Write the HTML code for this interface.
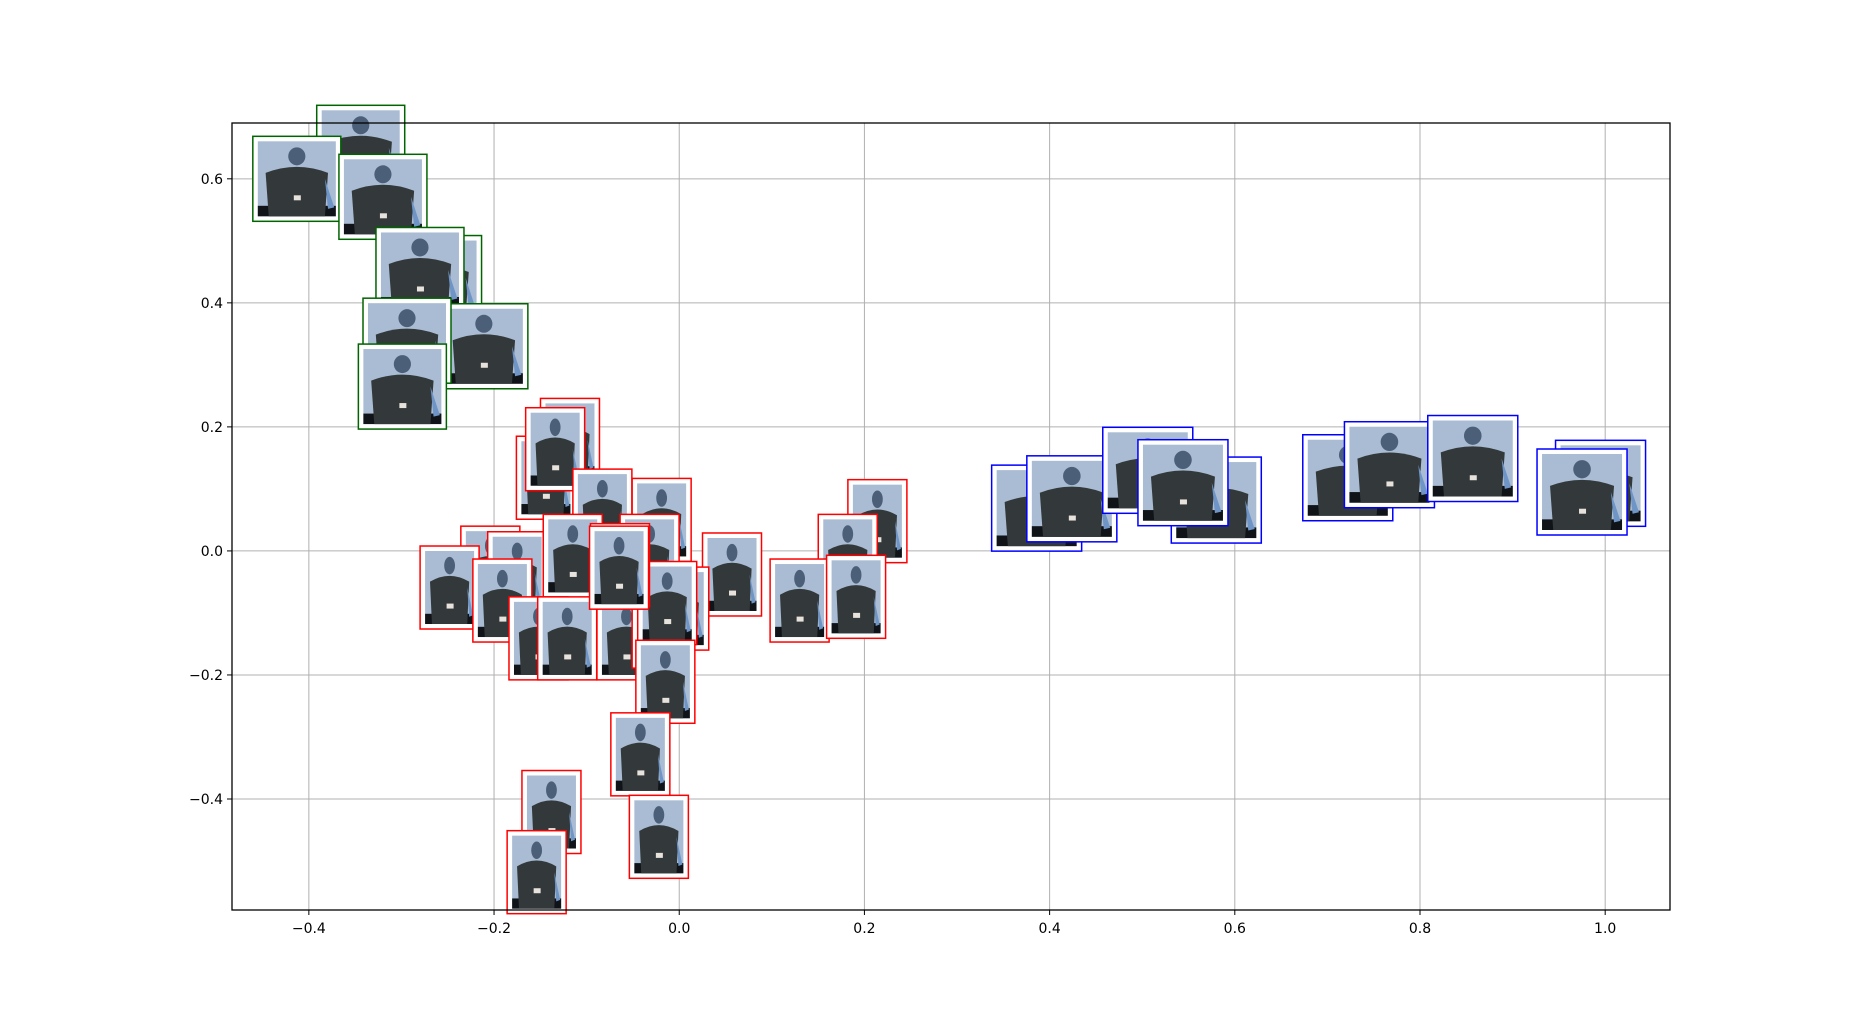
<!DOCTYPE html>
<html><head><meta charset="utf-8"><style>
html,body{margin:0;padding:0;background:#fff;}
svg{display:block;font-family:"DejaVu Sans","Liberation Sans",sans-serif;}
</style></head><body>
<svg id="chart" width="1855" height="1022" viewBox="0 0 1855 1022" xmlns="http://www.w3.org/2000/svg">
<rect width="1855" height="1022" fill="#fff"/>
<g id="grid"></g>
<g id="marks"></g>
<g id="axes"></g>
</svg>
<script>
const xTicks = [-0.4, -0.2, 0.0, 0.2, 0.4, 0.6, 0.8, 1.0];
const yTicks = [-0.4, -0.2, 0.0, 0.2, 0.4, 0.6];
const greenX = [-0.344, -0.413, -0.320, -0.261, -0.280, -0.211, -0.294, -0.299];
const greenY = [0.650, 0.600, 0.571, 0.440, 0.453, 0.330, 0.339, 0.265];
const redX = [-0.118,-0.144,-0.134,-0.083,-0.019,0.214,0.182,0.057,-0.204,-0.175,-0.248,-0.191,-0.115,-0.032,-0.152,-0.121,-0.057,-0.019,0.000,-0.013,-0.064,-0.065,0.130,0.191,-0.015,-0.042,-0.138,-0.022,-0.154];
const redY = [0.179,0.118,0.164,0.065,0.050,0.048,-0.008,-0.038,-0.027,-0.036,-0.059,-0.080,-0.008,-0.008,-0.141,-0.141,-0.141,-0.122,-0.093,-0.084,-0.023,-0.027,-0.080,-0.074,-0.211,-0.328,-0.421,-0.461,-0.518];
const blueX = [0.386,0.424,0.506,0.580,0.544,0.722,0.767,0.857,0.995,0.975];
const blueY = [0.069,0.084,0.130,0.082,0.110,0.118,0.139,0.149,0.109,0.095];

const L=232,R=1670,T=123,B=910;
const xMin=-0.483,xMax=1.070,yMin=-0.579,yMax=0.690;
const sx=v=>L+(v-xMin)/(xMax-xMin)*(R-L);
const sy=v=>B-(v-yMin)/(yMax-yMin)*(B-T);
const NS="http://www.w3.org/2000/svg";
function mk(tag,attrs,parent){const e=document.createElementNS(NS,tag);for(const k in attrs)e.setAttribute(k,attrs[k]);parent.appendChild(e);return e;}
const grid=document.getElementById('grid'),marks=document.getElementById('marks'),axes=document.getElementById('axes');
const fmt=v=>(v<0?'\u2212':'')+Math.abs(v).toFixed(1);
xTicks.forEach(v=>{
  const g=mk('line',{x1:sx(v),x2:sx(v),y1:T,y2:B,stroke:'#b0b0b0','stroke-width':1},grid);
  
  
  mk('line',{x1:sx(v),x2:sx(v),y1:B,y2:B+5,stroke:'#000'},axes);
  const t=mk('text',{x:sx(v),y:B+23,'text-anchor':'middle','font-size':14,fill:'#000'},axes);
  t.textContent=fmt(v);
  
  
});
yTicks.forEach(v=>{
  const g=mk('line',{x1:L,x2:R,y1:sy(v),y2:sy(v),stroke:'#b0b0b0','stroke-width':1},grid);
  
  
  mk('line',{x1:L-5,x2:L,y1:sy(v),y2:sy(v),stroke:'#000'},axes);
  const t=mk('text',{x:L-9,y:sy(v)+5,'text-anchor':'end','font-size':14,fill:'#000'},axes);
  t.textContent=fmt(v);
  
  
});
const frame=mk('rect',{x:L,y:T,width:R-L,height:B-T,fill:'none',stroke:'#000','stroke-width':1.3},axes);



function thumb(x,y,w,h,color,name){
  const cx=sx(x),cy=sy(y);
  const g=mk('g',{},marks);
  
  
  const x0=cx-w/2,y0=cy-h/2;
  mk('rect',{x:x0,y:y0,width:w,height:h,fill:'#fff',stroke:color,'stroke-width':1.5},g);
  const ix=x0+5,iy=y0+5,iw=w-10,ih=h-10;
  mk('rect',{x:ix,y:iy,width:iw,height:ih,fill:'#a9bcd3'},g);
  mk('rect',{x:ix,y:iy+ih*0.86,width:iw,height:ih*0.14,fill:'#101418'},g);
  const bx=ix+iw/2;
  mk('path',{d:`M${bx-iw*0.36} ${iy+ih} L${bx-iw*0.4} ${iy+ih*0.42} Q${bx} ${iy+ih*0.26} ${bx+iw*0.4} ${iy+ih*0.42} L${bx+iw*0.36} ${iy+ih} Z`,fill:'#33393a'},g);
  mk('path',{d:`M${bx+iw*0.36} ${iy+ih*0.5} L${bx+iw*0.48} ${iy+ih*0.88} L${bx+iw*0.40} ${iy+ih*0.9} Z`,fill:'#6f95c6'},g);
  mk('ellipse',{cx:bx,cy:iy+ih*0.2,rx:iw*0.11,ry:ih*0.12,fill:'#4c5f78'},g);
  mk('rect',{x:bx-3,y:iy+ih*0.72,width:7,height:5,fill:'#e8e2dc'},g);
}
greenX.forEach((v,i)=>thumb(v,greenY[i],88,85,'#006400','green-thumbnail'));
redX.forEach((v,i)=>thumb(v,redY[i],59,83,'#ff0000','red-thumbnail'));
blueX.forEach((v,i)=>thumb(v,blueY[i],90,86,'#0000ff','blue-thumbnail'));
</script>
</body></html>
